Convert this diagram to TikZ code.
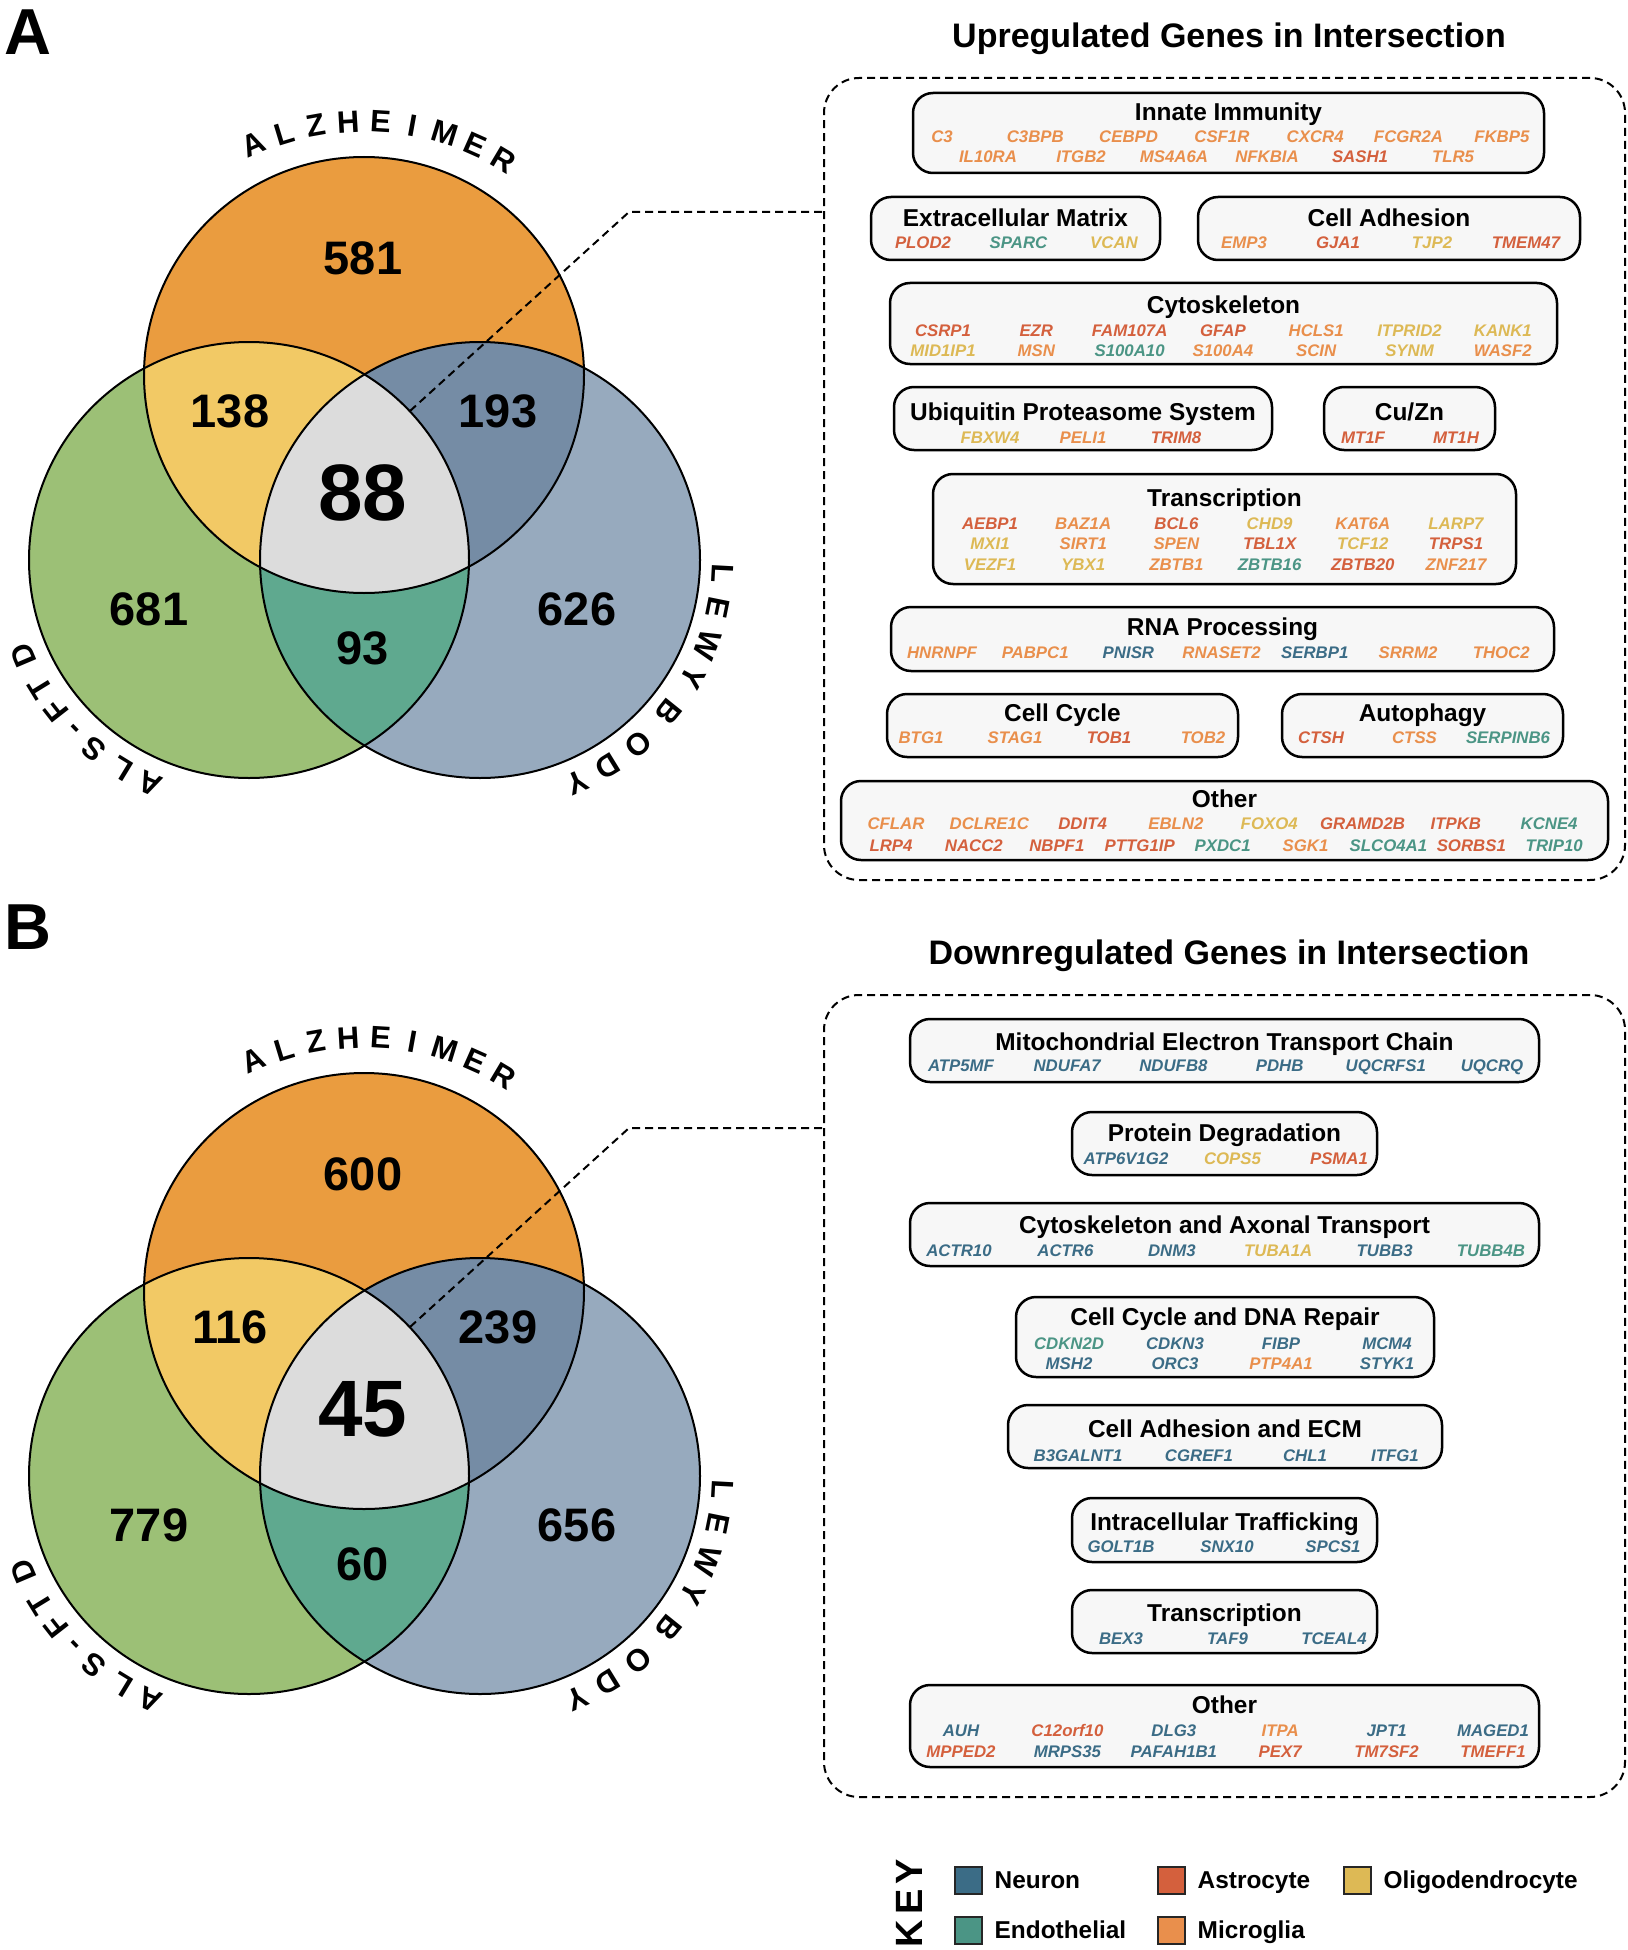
\documentclass[tikz,border=0pt]{standalone}
\usepackage{fontspec}
\setmainfont{Liberation Sans}
\usetikzlibrary{positioning}

\definecolor{neuron}{HTML}{3B6C86}
\definecolor{astro}{HTML}{D4603D}
\definecolor{oligo}{HTML}{DDB955}
\definecolor{endo}{HTML}{4B9585}
\definecolor{micro}{HTML}{E98F4C}
\definecolor{alzfill}{HTML}{EA9C3F}
\definecolor{alsfill}{HTML}{9CC076}
\definecolor{lewyfill}{HTML}{97AABE}
\definecolor{alzals}{HTML}{F2C965}
\definecolor{alzlewy}{HTML}{758CA5}
\definecolor{alslewy}{HTML}{5FA98F}
\definecolor{corefill}{HTML}{DCDCDC}
\definecolor{boxfill}{HTML}{F7F7F7}

\tikzset{
  gene/.style={font=\fontsize{16.8}{17}\selectfont\bfseries\itshape, inner sep=0pt, text height=12pt, text depth=0pt},
  grptitle/.style={font=\fontsize{24.4}{25}\selectfont\bfseries, inner sep=0pt, text height=17.5pt, text depth=0pt},
  grpbox/.style={draw, line width=2.5pt, rounded corners=20pt, fill=boxfill, inner sep=0pt},
  panelbox/.style={draw, line width=2pt, dash pattern=on 8pt off 5pt, rounded corners=35pt, inner sep=0pt},
  leader/.style={line width=2pt, dash pattern=on 8pt off 5pt},
  heading/.style={font=\fontsize{34}{34}\selectfont\bfseries, inner sep=0pt, text height=24.5pt, text depth=0pt},
  panelletter/.style={font=\fontsize{65}{65}\selectfont\bfseries, inner sep=0pt, text height=46.5pt, text depth=0pt},
  vennline/.style={line width=2pt},
  vennset/.style={x radius=220, y radius=218},
  vennnum/.style={font=\fontsize{47}{47}\selectfont\bfseries, inner sep=0pt, text height=33.7pt, text depth=0pt},
  venncore/.style={font=\fontsize{80}{80}\selectfont\bfseries, inner sep=0pt, text height=57.3pt, text depth=0pt},
  vennlab/.style={font=\fontsize{31}{31}\selectfont\bfseries, inner sep=0pt, anchor=base},
  keysq/.style={draw=black!85, line width=2pt, minimum size=27pt, inner sep=0pt},
  keylab/.style={font=\fontsize{24.4}{25}\selectfont\bfseries, inner sep=0pt, text height=17.5pt, text depth=0pt, anchor=west},
}

% one row of gene names: first x, step, y, list of colour/name
\newcommand{\genes}[4]{%
  \foreach \c/\g [count=\i from 0] in {#4}
    \node[gene, text=\c] (\g) at ({#1+\i*#2},-#3) {\g};
}
% one row of gene names at given x: y, list of x/colour/name
\newcommand{\genesat}[2]{%
  \foreach \x/\c/\g in {#2}
    \node[gene, text=\c] (\g) at (\x,-#1) {\g};
}

% three-set venn: yshift, prefix, seven counts
\newcommand{\vennpanel}[9]{%
  \begin{scope}[yshift=#1]
    \coordinate (#2alz) at (364,-375);
    \coordinate (#2als) at (249,-560);
    \coordinate (#2lewy) at (480,-560);
    \fill[alzfill] (#2alz) ellipse [vennset];
    \fill[alsfill] (#2als) ellipse [vennset];
    \fill[lewyfill] (#2lewy) ellipse [vennset];
    \begin{scope}
      \clip (#2als) ellipse [vennset];
      \fill[alslewy] (#2lewy) ellipse [vennset];
    \end{scope}
    \begin{scope}
      \clip (#2alz) ellipse [vennset];
      \fill[alzals] (#2als) ellipse [vennset];
      \fill[alzlewy] (#2lewy) ellipse [vennset];
    \end{scope}
    \begin{scope}
      \clip (#2alz) ellipse [vennset];
      \clip (#2als) ellipse [vennset];
      \fill[corefill] (#2lewy) ellipse [vennset];
    \end{scope}
    \draw[vennline] (#2alz) ellipse [vennset];
    \draw[vennline] (#2als) ellipse [vennset];
    \draw[vennline] (#2lewy) ellipse [vennset];

    \node[vennnum] (#2onlyalz) at (363,-258) {#3};
    \node[vennnum] (#2alzals) at (230,-411) {#4};
    \node[vennnum] (#2alzlewy) at (498,-411) {#5};
    \node[venncore] (#2core) at (363,-492) {#6};
    \node[vennnum] (#2onlyals) at (149,-609) {#7};
    \node[vennnum] (#2alslewy) at (363,-648) {#8};
    \node[vennnum] (#2onlylewy) at (577,-609) {#9};

    % set names bent round the circles
    \foreach \ch [count=\i from 0] in {A,L,Z,H,E,I,M,E,R} {
      \pgfmathsetmacro\ang{114.7-7.08*\i}
      \pgfmathsetmacro\rot{atan2(-243*cos(\ang),254*sin(\ang))}
      \node[vennlab, rotate=\rot] (#2alzl\i) at ({364+254*cos(\ang)},{-375+243*sin(\ang)}) {\ch};
    }
    \foreach \ch/\ang [count=\i from 0] in {A/246.2,L/238.7,S/230.5,-/224,F/218,T/211.5,D/203} {
      \node[vennlab, rotate=\ang-90] (#2alsl\i) at ({249+234*cos(\ang)},{-560+234*sin(\ang)}) {\ch};
    }
    \foreach \ch/\ang [count=\i from 0] in {L/356.9,E/348.6,W/339.5,Y/331.1,B/321.1,O/310.6,D/301.6,Y/293.6} {
      \node[vennlab, rotate=\ang-90] (#2lewyl\i) at ({480+232*cos(\ang)},{-560+232*sin(\ang)}) {\ch};
    }

    \coordinate (#2lead) at (410,-411);
    \coordinate (#2knee) at (629,-212);
  \end{scope}
}

\begin{document}
\begin{tikzpicture}[x=1pt, y=1pt]
    \useasboundingbox (0,0) rectangle (1627,-1950);

    \node[panelletter] (lblA) at (28,-31) {A};
    \node[panelletter] (lblB) at (28,-926) {B};

    \vennpanel{0}{A}{581}{138}{193}{88}{681}{93}{626}
    \vennpanel{-916}{B}{600}{116}{239}{45}{779}{60}{656}

    % upregulated
    \node[heading] (uptitle) at (1229,-35) {Upregulated Genes in Intersection};
    \node[panelbox, minimum width=801, minimum height=802] (upbox) at (1224.5,-479) {};
    \draw[leader] (Alead) -- (Aknee) -- (Aknee -| upbox.west);

    \node[grpbox, minimum width=631, minimum height=80] (innate) at (1228.5,-133) {};
    \node[grptitle] (innateT) at (1228.5,-112) {Innate Immunity};
    \genes{942}{93.3}{137}{micro/C3, micro/C3BPB, micro/CEBPD, micro/CSF1R, micro/CXCR4, micro/FCGR2A, micro/FKBP5}
    \genes{988}{93}{157}{micro/IL10RA, micro/ITGB2, micro/MS4A6A, micro/NFKBIA, astro/SASH1, micro/TLR5}

    \node[grpbox, minimum width=289, minimum height=63] (ecm) at (1015.5,-228.5) {};
    \node[grptitle] (ecmT) at (1015.5,-218) {Extracellular Matrix};
    \genes{923}{95.5}{243}{astro/PLOD2, endo/SPARC, oligo/VCAN}

    \node[grpbox, minimum width=382, minimum height=63] (adh) at (1389,-228.5) {};
    \node[grptitle] (adhT) at (1389,-218) {Cell Adhesion};
    \genes{1244}{94}{243}{micro/EMP3, astro/GJA1, oligo/TJP2, astro/TMEM47}

    \node[grpbox, minimum width=667, minimum height=81] (cyto) at (1223.5,-323.5) {};
    \node[grptitle] (cytoT) at (1223.5,-305) {Cytoskeleton};
    \genes{943}{93.3}{330}{astro/CSRP1, astro/EZR, astro/FAM107A, astro/GFAP, micro/HCLS1, oligo/ITPRID2, oligo/KANK1}
    \genes{943}{93.3}{350}{oligo/MID1IP1, micro/MSN, endo/S100A10, micro/S100A4, micro/SCIN, oligo/SYNM, micro/WASF2}

    \node[grpbox, minimum width=378, minimum height=63] (ups) at (1083,-418.5) {};
    \node[grptitle] (upsT) at (1083,-412) {Ubiquitin Proteasome System};
    \genes{990}{93}{437}{oligo/FBXW4, micro/PELI1, astro/TRIM8}

    \node[grpbox, minimum width=171, minimum height=63] (cuzn) at (1409.5,-418.5) {};
    \node[grptitle] (cuznT) at (1409.5,-412) {Cu/Zn};
    \genes{1363}{93}{437}{astro/MT1F, astro/MT1H}

    \node[grpbox, minimum width=583, minimum height=110] (transA) at (1224.5,-529) {};
    \node[grptitle] (transAT) at (1224.5,-498) {Transcription};
    \genes{990}{93.2}{523}{astro/AEBP1, micro/BAZ1A, astro/BCL6, oligo/CHD9, micro/KAT6A, oligo/LARP7}
    \genes{990}{93.2}{543}{oligo/MXI1, micro/SIRT1, micro/SPEN, astro/TBL1X, oligo/TCF12, astro/TRPS1}
    \genes{990}{93.2}{564}{oligo/VEZF1, oligo/YBX1, micro/ZBTB1, endo/ZBTB16, astro/ZBTB20, micro/ZNF217}

    \node[grpbox, minimum width=663, minimum height=64] (rna) at (1222.5,-639) {};
    \node[grptitle] (rnaT) at (1222.5,-627) {RNA Processing};
    \genes{942}{93.2}{652}{micro/HNRNPF, micro/PABPC1, neuron/PNISR, micro/RNASET2, neuron/SERBP1, micro/SRRM2, micro/THOC2}

    \node[grpbox, minimum width=351, minimum height=63] (cycle) at (1062.5,-725.5) {};
    \node[grptitle] (cycleT) at (1062.5,-713) {Cell Cycle};
    \genes{921}{94}{737}{micro/BTG1, micro/STAG1, astro/TOB1, micro/TOB2}

    \node[grpbox, minimum width=281, minimum height=63] (autoph) at (1422.5,-725.5) {};
    \node[grptitle] (autophT) at (1422.5,-713) {Autophagy};
    \genes{1321}{93.5}{737}{astro/CTSH, micro/CTSS, endo/SERPINB6}

    \node[grpbox, minimum width=767, minimum height=79] (otherA) at (1224.5,-820.5) {};
    \node[grptitle] (otherAT) at (1224.5,-799) {Other};
    \genes{896}{93.3}{823}{micro/CFLAR, micro/DCLRE1C, astro/DDIT4, micro/EBLN2, oligo/FOXO4, astro/GRAMD2B, astro/ITPKB, endo/KCNE4}
    \genes{891}{82.9}{845}{astro/LRP4, astro/NACC2, astro/NBPF1, astro/PTTG1IP, endo/PXDC1, micro/SGK1, endo/SLCO4A1, astro/SORBS1, endo/TRIP10}

    % downregulated
    \node[heading] (downtitle) at (1229,-952) {Downregulated Genes in Intersection};
    \node[panelbox, minimum width=801, minimum height=802] (downbox) at (1224.5,-1396) {};
    \draw[leader] (Blead) -- (Bknee) -- (Bknee -| downbox.west);

    \node[grpbox, minimum width=629, minimum height=63] (mito) at (1224.5,-1050.5) {};
    \node[grptitle] (mitoT) at (1224.5,-1042) {Mitochondrial Electron Transport Chain};
    \genes{961}{106.2}{1065}{neuron/ATP5MF, neuron/NDUFA7, neuron/NDUFB8, neuron/PDHB, neuron/UQCRFS1, neuron/UQCRQ}

    \node[grpbox, minimum width=305, minimum height=63] (protdeg) at (1224.5,-1143.5) {};
    \node[grptitle] (protdegT) at (1224.5,-1133) {Protein Degradation};
    \genes{1126}{106.5}{1158}{neuron/ATP6V1G2, oligo/COPS5, astro/PSMA1}

    \node[grpbox, minimum width=629, minimum height=63] (cytoax) at (1224.5,-1234.5) {};
    \node[grptitle] (cytoaxT) at (1224.5,-1225) {Cytoskeleton and Axonal Transport};
    \genes{959}{106.4}{1250}{neuron/ACTR10, neuron/ACTR6, neuron/DNM3, oligo/TUBA1A, neuron/TUBB3, endo/TUBB4B}

    \node[grpbox, minimum width=418, minimum height=80] (ccdna) at (1225,-1337) {};
    \node[grptitle] (ccdnaT) at (1225,-1317) {Cell Cycle and DNA Repair};
    \genes{1069}{106}{1343}{endo/CDKN2D, neuron/CDKN3, neuron/FIBP, neuron/MCM4}
    \genes{1069}{106}{1363}{neuron/MSH2, neuron/ORC3, micro/PTP4A1, neuron/STYK1}

    \node[grpbox, minimum width=434, minimum height=63] (adhecm) at (1225,-1436.5) {};
    \node[grptitle] (adhecmT) at (1225,-1429) {Cell Adhesion and ECM};
    \genesat{1455}{1078/neuron/B3GALNT1, 1199/neuron/CGREF1, 1305/neuron/CHL1, 1395/neuron/ITFG1}

    \node[grpbox, minimum width=305, minimum height=64] (traffic) at (1224.5,-1530) {};
    \node[grptitle] (trafficT) at (1224.5,-1522) {Intracellular Trafficking};
    \genes{1121}{106}{1546}{neuron/GOLT1B, neuron/SNX10, neuron/SPCS1}

    \node[grpbox, minimum width=305, minimum height=63] (transB) at (1224.5,-1621.5) {};
    \node[grptitle] (transBT) at (1224.5,-1613) {Transcription};
    \genes{1121}{106.5}{1638}{neuron/BEX3, neuron/TAF9, neuron/TCEAL4}

    \node[grpbox, minimum width=629, minimum height=82] (otherB) at (1224.5,-1726) {};
    \node[grptitle] (otherBT) at (1224.5,-1705) {Other};
    \genes{961}{106.4}{1730}{neuron/AUH, astro/C12orf10, neuron/DLG3, micro/ITPA, neuron/JPT1, neuron/MAGED1}
    \genes{961}{106.4}{1751}{astro/MPPED2, neuron/MRPS35, neuron/PAFAH1B1, astro/PEX7, astro/TM7SF2, astro/TMEFF1}

    % key
    \node[font=\fontsize{38}{38}\selectfont\bfseries, rotate=90, inner sep=0pt] (keyword) at (909,-1903) {K\kern5pt E\kern5pt Y};
    \node[keysq, fill=neuron] (sqNeuron) at (968,-1880) {};
    \node[keylab, right=12pt of sqNeuron] (labNeuron) {Neuron};
    \node[keysq, fill=astro] (sqAstro) at (1171,-1880) {};
    \node[keylab, right=12pt of sqAstro] (labAstro) {Astrocyte};
    \node[keysq, fill=oligo] (sqOligo) at (1357,-1880) {};
    \node[keylab, right=12pt of sqOligo] (labOligo) {Oligodendrocyte};
    \node[keysq, fill=endo] (sqEndo) at (968,-1930) {};
    \node[keylab, right=12pt of sqEndo] (labEndo) {Endothelial};
    \node[keysq, fill=micro] (sqMicro) at (1171,-1930) {};
    \node[keylab, right=12pt of sqMicro] (labMicro) {Microglia};
\end{tikzpicture}
\end{document}
